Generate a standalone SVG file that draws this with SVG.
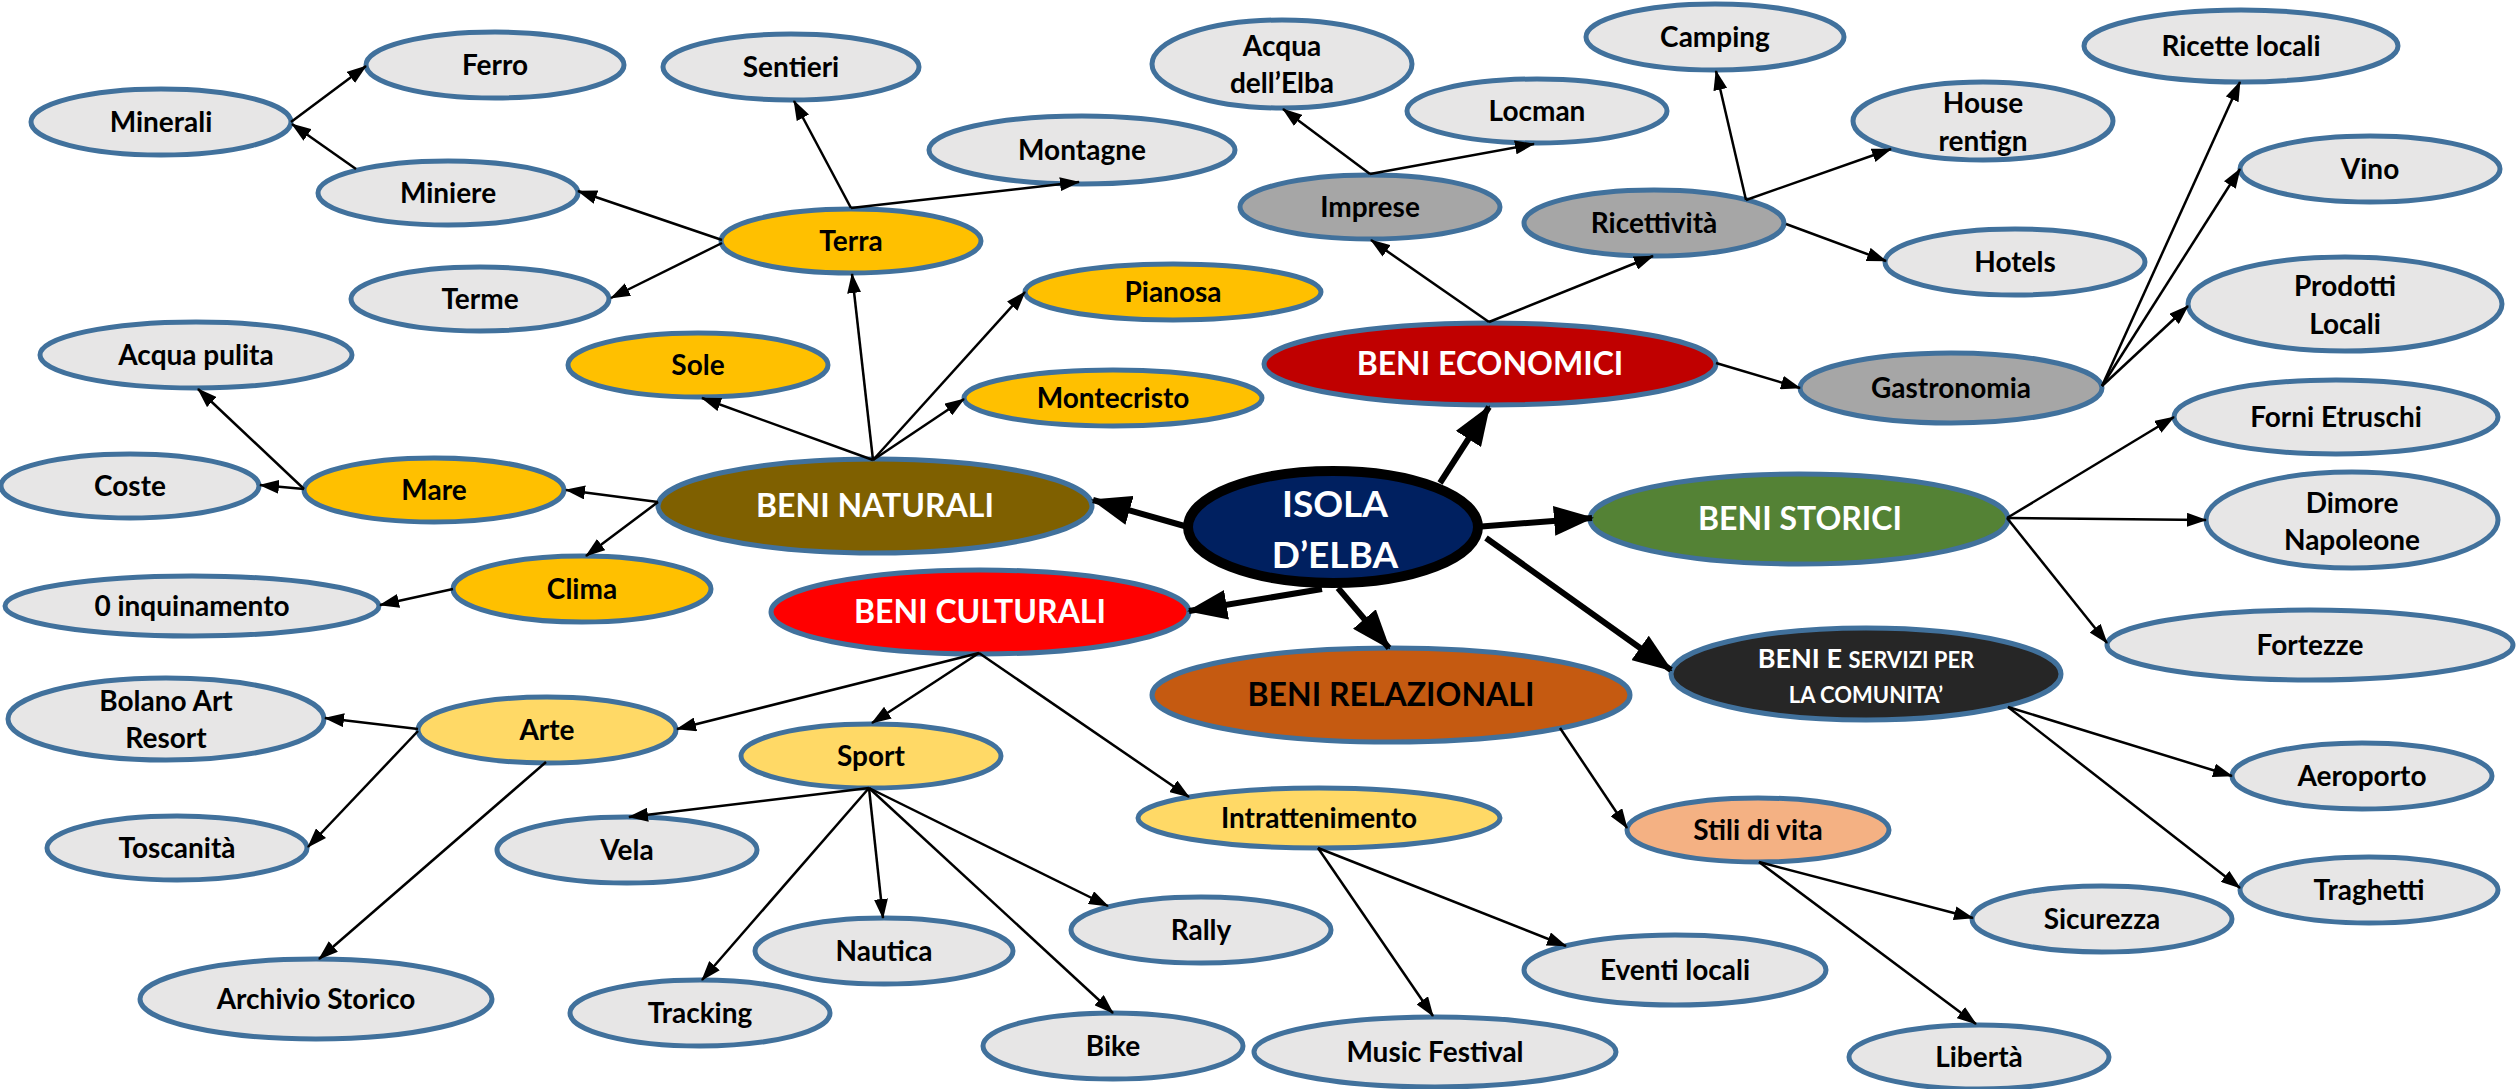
<svg xmlns="http://www.w3.org/2000/svg" width="2519" height="1089" viewBox="0 0 2519 1089">
<style>
.n ellipse{stroke:#41719C;stroke-width:5}
.leaf ellipse{fill:#E7E6E6}
.gold ellipse{fill:#FFC000}
.ylw ellipse{fill:#FFD966}
.gry ellipse{fill:#A6A6A6}
text{font-family:Lato,"Liberation Sans",sans-serif;font-weight:bold;text-anchor:middle;fill:#000;font-size:28px}
.w{fill:#fff}
.big{font-size:32px}
.isl{font-size:37px}
.sc{font-size:22px}
#conn line{stroke:#000}
.thin{stroke-width:2.5;marker-end:url(#ah)}
.thick{stroke-width:6;marker-end:url(#ahb)}
</style>
<defs>
<marker id="ah" markerUnits="userSpaceOnUse" viewBox="0 0 20 14" markerWidth="20" markerHeight="14" refX="19" refY="7" orient="auto"><path d="M0,0 L20,7 L0,14 z" fill="#000"/></marker>
<marker id="ahb" markerUnits="userSpaceOnUse" viewBox="0 0 40 30" markerWidth="40" markerHeight="30" refX="38" refY="15" orient="auto"><path d="M0,0 L40,15 L0,30 z" fill="#000"/></marker>
</defs>
<rect width="2519" height="1089" fill="#fff"/>

<g id="isola" class="n"><ellipse cx="1333" cy="527" rx="145" ry="56" fill="#002060" style="stroke:#000;stroke-width:10"/><text class="w isl" x="1335" y="517">ISOLA</text><text class="w isl" x="1335" y="568">D’ELBA</text></g>

<g id="beni-naturali" class="n"><ellipse cx="875" cy="506" rx="217" ry="47" fill="#7F6000"/><text class="w big" x="875" y="517">BENI NATURALI</text></g>
<g id="beni-economici" class="n"><ellipse cx="1490" cy="364" rx="226" ry="41" fill="#C00000"/><text class="w big" x="1490" y="375">BENI ECONOMICI</text></g>
<g id="beni-storici" class="n"><ellipse cx="1799" cy="519" rx="209" ry="45" fill="#548235"/><text class="w big" x="1800" y="530">BENI STORICI</text></g>
<g id="beni-culturali" class="n"><ellipse cx="980" cy="612" rx="209" ry="42" fill="#FF0000"/><text class="w big" x="980" y="623">BENI CULTURALI</text></g>
<g id="beni-relazionali" class="n"><ellipse cx="1391" cy="695" rx="239" ry="47" fill="#C55A11"/><text class="big" x="1391" y="706">BENI RELAZIONALI</text></g>
<g id="beni-servizi" class="n"><ellipse cx="1866" cy="674" rx="195" ry="46" fill="#262626"/><text class="w" x="1866" y="668"><tspan style="font-size:27px">BENI E </tspan><tspan class="sc">SERVIZI PER</tspan></text><text class="w sc" x="1866" y="703">LA COMUNITA’</text></g>

<g id="terra" class="n gold"><ellipse cx="851" cy="241" rx="130" ry="32"/><text x="851" y="251">Terra</text></g>
<g id="sole" class="n gold"><ellipse cx="698" cy="365" rx="130" ry="32"/><text x="698" y="375">Sole</text></g>
<g id="pianosa" class="n gold"><ellipse cx="1173" cy="292" rx="148" ry="28"/><text x="1173" y="302">Pianosa</text></g>
<g id="montecristo" class="n gold"><ellipse cx="1113" cy="398" rx="149" ry="28"/><text x="1113" y="408">Montecristo</text></g>
<g id="mare" class="n gold"><ellipse cx="434" cy="490" rx="130" ry="32"/><text x="434" y="500">Mare</text></g>
<g id="clima" class="n gold"><ellipse cx="582" cy="589" rx="129" ry="33"/><text x="582" y="599">Clima</text></g>
<g id="imprese" class="n gry"><ellipse cx="1370" cy="207" rx="130" ry="32"/><text x="1370" y="217">Imprese</text></g>
<g id="ricettivita" class="n gry"><ellipse cx="1654" cy="223" rx="130" ry="33"/><text x="1654" y="233">Ricettività</text></g>
<g id="gastronomia" class="n gry"><ellipse cx="1951" cy="388" rx="151" ry="35"/><text x="1951" y="398">Gastronomia</text></g>
<g id="arte" class="n ylw"><ellipse cx="547" cy="730" rx="129" ry="33"/><text x="547" y="740">Arte</text></g>
<g id="sport" class="n ylw"><ellipse cx="871" cy="756" rx="130" ry="32"/><text x="871" y="766">Sport</text></g>
<g id="intrattenimento" class="n ylw"><ellipse cx="1319" cy="818" rx="181" ry="30"/><text x="1319" y="828">Intrattenimento</text></g>
<g id="stili" class="n"><ellipse cx="1758" cy="830" rx="131" ry="32" fill="#F4B183"/><text x="1758" y="840">Stili di vita</text></g>

<g id="ferro" class="n leaf"><ellipse cx="495" cy="65" rx="129" ry="33"/><text x="495" y="75">Ferro</text></g>
<g id="minerali" class="n leaf"><ellipse cx="161" cy="122" rx="130" ry="33"/><text x="161" y="132">Minerali</text></g>
<g id="miniere" class="n leaf"><ellipse cx="448" cy="193" rx="130" ry="32"/><text x="448" y="203">Miniere</text></g>
<g id="terme" class="n leaf"><ellipse cx="480" cy="299" rx="129" ry="32"/><text x="480" y="309">Terme</text></g>
<g id="sentieri" class="n leaf"><ellipse cx="791" cy="67" rx="128" ry="33"/><text x="791" y="77">Sentieri</text></g>
<g id="montagne" class="n leaf"><ellipse cx="1082" cy="150" rx="153" ry="34"/><text x="1082" y="160">Montagne</text></g>
<g id="acqua-pulita" class="n leaf"><ellipse cx="196" cy="355" rx="156" ry="33"/><text x="196" y="365">Acqua pulita</text></g>
<g id="coste" class="n leaf"><ellipse cx="130" cy="486" rx="129" ry="32"/><text x="130" y="496">Coste</text></g>
<g id="inquinamento" class="n leaf"><ellipse cx="192" cy="606" rx="187" ry="30"/><text x="192" y="616">0 inquinamento</text></g>
<g id="acqua-elba" class="n leaf"><ellipse cx="1282" cy="64" rx="130" ry="44"/><text x="1282" y="56">Acqua</text><text x="1282" y="93">dell’Elba</text></g>
<g id="locman" class="n leaf"><ellipse cx="1537" cy="111" rx="130" ry="32"/><text x="1537" y="121">Locman</text></g>
<g id="camping" class="n leaf"><ellipse cx="1715" cy="37" rx="129" ry="33"/><text x="1715" y="47">Camping</text></g>
<g id="house" class="n leaf"><ellipse cx="1983" cy="121" rx="130" ry="39"/><text x="1983" y="113">House</text><text x="1983" y="151">rentign</text></g>
<g id="hotels" class="n leaf"><ellipse cx="2015" cy="262" rx="130" ry="33"/><text x="2015" y="272">Hotels</text></g>
<g id="ricette" class="n leaf"><ellipse cx="2241" cy="46" rx="157" ry="36"/><text x="2241" y="56">Ricette locali</text></g>
<g id="vino" class="n leaf"><ellipse cx="2370" cy="169" rx="130" ry="33"/><text x="2370" y="179">Vino</text></g>
<g id="prodotti" class="n leaf"><ellipse cx="2345" cy="304" rx="157" ry="47"/><text x="2345" y="296">Prodotti</text><text x="2345" y="334">Locali</text></g>
<g id="forni" class="n leaf"><ellipse cx="2336" cy="417" rx="162" ry="37"/><text x="2336" y="427">Forni Etruschi</text></g>
<g id="dimore" class="n leaf"><ellipse cx="2352" cy="520" rx="146" ry="48"/><text x="2352" y="513">Dimore</text><text x="2352" y="550">Napoleone</text></g>
<g id="fortezze" class="n leaf"><ellipse cx="2310" cy="645" rx="203" ry="35"/><text x="2310" y="655">Fortezze</text></g>
<g id="aeroporto" class="n leaf"><ellipse cx="2362" cy="776" rx="130" ry="33"/><text x="2362" y="786">Aeroporto</text></g>
<g id="traghetti" class="n leaf"><ellipse cx="2369" cy="890" rx="129" ry="33"/><text x="2369" y="900">Traghetti</text></g>
<g id="sicurezza" class="n leaf"><ellipse cx="2102" cy="919" rx="130" ry="33"/><text x="2102" y="929">Sicurezza</text></g>
<g id="liberta" class="n leaf"><ellipse cx="1979" cy="1057" rx="130" ry="32"/><text x="1979" y="1067">Libertà</text></g>
<g id="bolano" class="n leaf"><ellipse cx="166" cy="719" rx="158" ry="41"/><text x="166" y="711">Bolano Art</text><text x="166" y="748">Resort</text></g>
<g id="toscanita" class="n leaf"><ellipse cx="177" cy="848" rx="130" ry="32"/><text x="177" y="858">Toscanità</text></g>
<g id="archivio" class="n leaf"><ellipse cx="316" cy="999" rx="176" ry="40"/><text x="316" y="1009">Archivio Storico</text></g>
<g id="vela" class="n leaf"><ellipse cx="627" cy="850" rx="130" ry="33"/><text x="627" y="860">Vela</text></g>
<g id="tracking" class="n leaf"><ellipse cx="700" cy="1013" rx="130" ry="33"/><text x="700" y="1023">Tracking</text></g>
<g id="nautica" class="n leaf"><ellipse cx="884" cy="951" rx="129" ry="33"/><text x="884" y="961">Nautica</text></g>
<g id="rally" class="n leaf"><ellipse cx="1201" cy="930" rx="130" ry="33"/><text x="1201" y="940">Rally</text></g>
<g id="bike" class="n leaf"><ellipse cx="1113" cy="1046" rx="130" ry="33"/><text x="1113" y="1056">Bike</text></g>
<g id="music" class="n leaf"><ellipse cx="1435" cy="1052" rx="181" ry="35"/><text x="1435" y="1062">Music Festival</text></g>
<g id="eventi" class="n leaf"><ellipse cx="1675" cy="970" rx="151" ry="35"/><text x="1675" y="980">Eventi locali</text></g>

<g id="conn">
<line class="thin" x1="291" y1="122" x2="366" y2="66"/>
<line class="thin" x1="356" y1="169" x2="292" y2="124"/>
<line class="thin" x1="722" y1="240" x2="578" y2="191"/>
<line class="thin" x1="722" y1="243" x2="611" y2="298"/>
<line class="thin" x1="851" y1="208" x2="794" y2="101"/>
<line class="thin" x1="851" y1="208" x2="1079" y2="182"/>
<line class="thin" x1="873" y1="460" x2="852" y2="274"/>
<line class="thin" x1="873" y1="460" x2="1025" y2="292"/>
<line class="thin" x1="873" y1="460" x2="964" y2="399"/>
<line class="thin" x1="873" y1="460" x2="702" y2="398"/>
<line class="thin" x1="658" y1="502" x2="566" y2="490"/>
<line class="thin" x1="658" y1="502" x2="586" y2="556"/>
<line class="thin" x1="304" y1="489" x2="260" y2="485"/>
<line class="thin" x1="304" y1="489" x2="198" y2="389"/>
<line class="thin" x1="453" y1="589" x2="380" y2="605"/>
<line class="thin" x1="1489" y1="322" x2="1371" y2="240"/>
<line class="thin" x1="1489" y1="322" x2="1653" y2="256"/>
<line class="thin" x1="1370" y1="174" x2="1283" y2="109"/>
<line class="thin" x1="1370" y1="174" x2="1534" y2="144"/>
<line class="thin" x1="1746" y1="200" x2="1716" y2="71"/>
<line class="thin" x1="1746" y1="200" x2="1891" y2="149"/>
<line class="thin" x1="1786" y1="224" x2="1886" y2="261"/>
<line class="thin" x1="1716" y1="363" x2="1800" y2="388"/>
<line class="thin" x1="2102" y1="386" x2="2240" y2="82"/>
<line class="thin" x1="2102" y1="386" x2="2240" y2="169"/>
<line class="thin" x1="2102" y1="386" x2="2188" y2="306"/>
<line class="thin" x1="2007" y1="518" x2="2174" y2="417"/>
<line class="thin" x1="2007" y1="518" x2="2206" y2="520"/>
<line class="thin" x1="2007" y1="518" x2="2107" y2="643"/>
<line class="thin" x1="979" y1="653" x2="677" y2="729"/>
<line class="thin" x1="979" y1="653" x2="872" y2="723"/>
<line class="thin" x1="979" y1="653" x2="1189" y2="797"/>
<line class="thin" x1="418" y1="729" x2="325" y2="718"/>
<line class="thin" x1="418" y1="731" x2="308" y2="847"/>
<line class="thin" x1="546" y1="762" x2="319" y2="959"/>
<line class="thin" x1="869" y1="788" x2="629" y2="817"/>
<line class="thin" x1="869" y1="788" x2="702" y2="980"/>
<line class="thin" x1="869" y1="788" x2="883" y2="918"/>
<line class="thin" x1="869" y1="788" x2="1113" y2="1013"/>
<line class="thin" x1="869" y1="788" x2="1108" y2="906"/>
<line class="thin" x1="1318" y1="848" x2="1433" y2="1016"/>
<line class="thin" x1="1318" y1="848" x2="1566" y2="946"/>
<line class="thin" x1="1560" y1="728" x2="1627" y2="828"/>
<line class="thin" x1="2008" y1="707" x2="2232" y2="776"/>
<line class="thin" x1="2008" y1="707" x2="2240" y2="888"/>
<line class="thin" x1="1759" y1="862" x2="1973" y2="918"/>
<line class="thin" x1="1759" y1="862" x2="1976" y2="1024"/>
<line class="thick" x1="1440" y1="483" x2="1489" y2="407"/>
<line class="thick" x1="1188" y1="527" x2="1093" y2="500"/>
<line class="thick" x1="1475" y1="527" x2="1592" y2="518"/>
<line class="thick" x1="1322" y1="589" x2="1189" y2="611"/>
<line class="thick" x1="1338" y1="588" x2="1389" y2="648"/>
<line class="thick" x1="1486" y1="538" x2="1671" y2="670"/>
</g>
</svg>
